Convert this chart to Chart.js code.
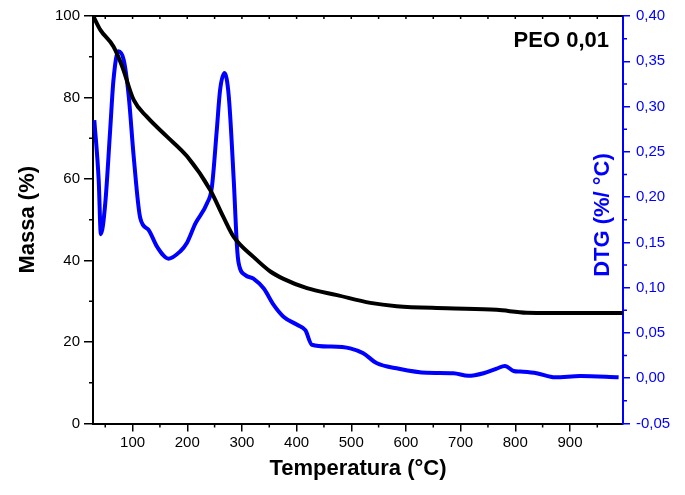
<!DOCTYPE html>
<html lang="pt">
  <head>
    <meta charset="UTF-8" />
    <title>PEO 0,01 - TG / DTG</title>
    <style>
      html, body { margin: 0; padding: 0; background: #fff; }
      #wrap { width: 685px; height: 495px; }
    </style>
  </head>
  <body>
    <div id="wrap"><canvas id="grafico" width="685" height="495"></canvas></div>
    <script src="https://cdn.jsdelivr.net/npm/chart.js"></script>
    <script>
      // curva TG (massa)
      const tempMassa = [28, 41, 65, 81, 102, 126, 163, 200, 242, 266, 285, 321, 352, 376, 419, 474, 535, 583, 675, 766, 821, 919, 997];
      const massa = [100, 96.6, 92.5, 87.6, 79.4, 75.3, 70.4, 65.5, 57.3, 50.7, 45.8, 40.9, 37.3, 35.5, 33.2, 31.5, 29.6, 28.8, 28.3, 27.9, 27.2, 27.1, 27.1];

      // curva DTG
      const tempDtg = [30, 38, 42, 50, 59, 65, 74, 84, 93, 102, 114, 129, 145, 166, 187, 199, 215, 236, 245, 254, 260, 268, 276, 285, 291, 294, 306, 321, 340, 358, 376, 401, 416, 428, 462, 498, 522, 547, 583, 638, 687, 714, 742, 766, 781, 797, 809, 839, 873, 919, 989];
      const dtg = [0.285, 0.219, 0.159, 0.193, 0.274, 0.329, 0.361, 0.351, 0.311, 0.245, 0.177, 0.164, 0.145, 0.132, 0.140, 0.149, 0.171, 0.193, 0.211, 0.274, 0.318, 0.337, 0.311, 0.219, 0.145, 0.127, 0.114, 0.110, 0.099, 0.081, 0.068, 0.059, 0.053, 0.037, 0.035, 0.033, 0.0275, 0.0165, 0.011, 0.006, 0.0055, 0.0026, 0.0055, 0.0106, 0.0136, 0.008, 0.0073, 0.0055, 0.001, 0.0024, 0.001];

      // ticks
      const ticksX = [100, 200, 300, 400, 500, 600, 700, 800, 900];
      const ticksMassa = [0, 20, 40, 60, 80, 100];
      const ticksDtg = [-0.05, 0, 0.05, 0.1, 0.15, 0.2, 0.25, 0.3, 0.35, 0.4];
      const minorX = [50, 150, 250, 350, 450, 550, 650, 750, 850, 950];
      const minorMassa = [10, 30, 50, 70, 90];
      const minorDtg = [-0.025, 0.025, 0.075, 0.125, 0.175, 0.225, 0.275, 0.325, 0.375];

      const AZUL = "#0000ff";
      const fonte = "'Liberation Sans', Arial, sans-serif";

      const toPts = (xs, ys) => xs.map((x, i) => ({ x: x, y: ys[i] }));
      const virgula = (v) => v.toFixed(2).replace(".", ",");

      // ticks menores, borda de cima e textos extras
      const extras = {
        id: "extras",
        afterDraw(chart) {
          const { ctx, chartArea: a, scales } = chart;
          ctx.save();
          ctx.lineWidth = 1.5;
          ctx.strokeStyle = "#000";
          ctx.beginPath();
          minorX.forEach((v) => {
            const px = scales.x.getPixelForValue(v);
            ctx.moveTo(px, a.bottom); ctx.lineTo(px, a.bottom + 4);
          });
          minorX.concat(ticksX).forEach((v) => {
            const px = scales.x.getPixelForValue(v);
            ctx.moveTo(px, a.top); ctx.lineTo(px, a.top + 3);
          });
          minorMassa.forEach((v) => {
            const py = scales.y.getPixelForValue(v);
            ctx.moveTo(a.left, py); ctx.lineTo(a.left - 4, py);
          });
          ctx.stroke();
          ctx.lineWidth = 2;
          ctx.beginPath();
          ctx.moveTo(a.left, a.top); ctx.lineTo(a.right, a.top);
          ctx.stroke();
          ctx.strokeStyle = AZUL;
          ctx.lineWidth = 1.5;
          ctx.beginPath();
          minorDtg.forEach((v) => {
            const py = scales.y2.getPixelForValue(v);
            ctx.moveTo(a.right, py); ctx.lineTo(a.right + 4, py);
          });
          ctx.stroke();

          ctx.fillStyle = "#000";
          ctx.font = "bold 22px " + fonte;
          ctx.textAlign = "right";
          ctx.textBaseline = "middle";
          ctx.fillText("PEO 0,01", 609, 41);

          ctx.translate(603, 215);
          ctx.rotate(-Math.PI / 2);
          ctx.fillStyle = AZUL;
          ctx.textAlign = "center";
          ctx.fillText("DTG (%/ °C)", 0, 0);
          ctx.restore();
        },
      };

      const lienzo = document.getElementById("grafico");
      const grafico = new Chart(lienzo, {
        type: "line",
        data: {
          datasets: [
            {
              label: "Massa",
              data: toPts(tempMassa, massa),
              borderColor: "#000",
              borderWidth: 4,
              pointRadius: 0,
              cubicInterpolationMode: "monotone",
              yAxisID: "y",
            },
            {
              label: "DTG",
              data: toPts(tempDtg, dtg),
              borderColor: AZUL,
              borderWidth: 4,
              pointRadius: 0,
              cubicInterpolationMode: "monotone",
              yAxisID: "y2",
            },
          ],
        },
        options: {
          responsive: false,
          animation: false,
          layout: { padding: { top: 16, left: 0, right: 0, bottom: 0 } },
          plugins: { legend: { display: false }, tooltip: { enabled: false } },
          scales: {
            x: {
              type: "linear",
              min: 27.6,
              max: 997,
              afterBuildTicks: (s) => { s.ticks = ticksX.map((v) => ({ value: v })); },
              afterFit: (s) => { s.height = 71.5; },
              grid: { display: true, drawOnChartArea: false, tickLength: 8, color: "#000", lineWidth: 1.5 },
              border: { display: true, color: "#000", width: 2 },
              ticks: { color: "#000", font: { family: fonte, size: 15 }, padding: 2, maxRotation: 0 },
              title: {
                display: true,
                text: "Temperatura (°C)",
                color: "#000",
                font: { family: fonte, size: 22, weight: "bold" },
                padding: { top: 0, bottom: 13 },
              },
            },
            y: {
              position: "left",
              min: 0,
              max: 100,
              afterBuildTicks: (s) => { s.ticks = ticksMassa.map((v) => ({ value: v })); },
              afterFit: (s) => { s.width = 93; },
              grid: { display: true, drawOnChartArea: false, tickLength: 9, color: "#000", lineWidth: 1.5 },
              border: { display: true, color: "#000", width: 2 },
              ticks: { color: "#000", font: { family: fonte, size: 15 }, padding: 4 },
              title: {
                display: true,
                text: "Massa (%)",
                color: "#000",
                font: { family: fonte, size: 22, weight: "bold" },
                padding: { top: 15, bottom: 0 },
              },
            },
            y2: {
              position: "right",
              min: -0.05,
              max: 0.4,
              afterBuildTicks: (s) => { s.ticks = ticksDtg.map((v) => ({ value: v })); },
              afterFit: (s) => { s.width = 62; },
              grid: { display: true, drawOnChartArea: false, tickLength: 7, color: AZUL, lineWidth: 1.5 },
              border: { display: true, color: AZUL, width: 2 },
              ticks: {
                color: AZUL,
                font: { family: fonte, size: 15 },
                padding: 6,
                callback: (v) => virgula(v),
              },
            },
          },
        },
        plugins: [extras],
      });
    </script>
  </body>
</html>
